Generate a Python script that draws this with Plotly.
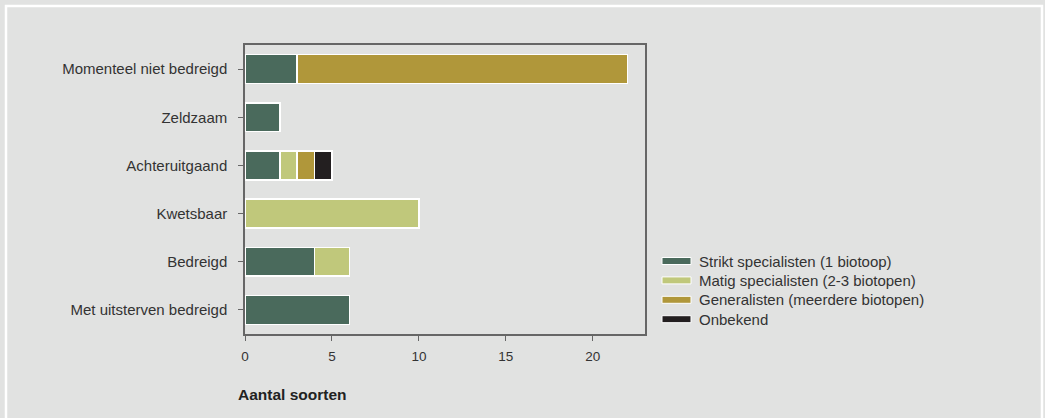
import plotly.graph_objects as go

# Rode-lijststatus per categorie, uitgesplitst naar specialisatiegraad
categories = [
    "Momenteel niet bedreigd",
    "Zeldzaam",
    "Achteruitgaand",
    "Kwetsbaar",
    "Bedreigd",
    "Met uitsterven bedreigd",
]
strikt = [3, 2, 2, 0, 4, 6]
matig = [0, 0, 1, 10, 2, 0]
generalisten = [19, 0, 1, 0, 0, 0]
onbekend = [0, 0, 1, 0, 0, 0]

series_names = [
    "Strikt specialisten (1 biotoop)",
    "Matig specialisten (2-3 biotopen)",
    "Generalisten (meerdere biotopen)",
    "Onbekend",
]
series_values = [strikt, matig, generalisten, onbekend]
colors = ["#4a6a5c", "#c0c87b", "#b0973a", "#231f20"]

x_ticks = [0, 5, 10, 15, 20]
x_title = "Aantal soorten"

BG = "#e1e2e1"
TEXT = "#333333"
AXIS = "#666666"
FONT = "Liberation Sans, Arial, sans-serif"

fig = go.Figure()
for name, vals, col in zip(series_names, series_values, colors):
    fig.add_trace(go.Bar(
        y=categories, x=vals, name=name, orientation="h",
        marker=dict(color=col, line=dict(color="white", width=1.5)),
        width=0.6, showlegend=False,
    ))

# plot area in pixels: x 245..645, y 45..334
L, R, T, B = 245, 645, 45, 334
W, H = 1045, 418
pw, ph = R - L, B - T

def px_x(x):
    return (x - L) / pw

def px_y(y):
    return (B - y) / ph

shapes = []
annotations = []

# white frame around the figure
shapes.append(dict(type="rect", xref="paper", yref="paper",
                   x0=px_x(6), x1=px_x(1042), y0=px_y(6), y1=px_y(430),
                   line=dict(color="white", width=2.5), fillcolor="rgba(0,0,0,0)",
                   layer="below"))

# legend: wide swatches with labels
for i, (name, col) in enumerate(zip(series_names, colors)):
    yc = 261 + i * 19.4
    shapes.append(dict(type="rect", xref="paper", yref="paper",
                       x0=px_x(662), x1=px_x(691), y0=px_y(yc + 3.5), y1=px_y(yc - 3.5),
                       fillcolor=col, line=dict(color="white", width=1)))
    annotations.append(dict(xref="paper", yref="paper", x=px_x(697), y=px_y(yc),
                            text=name, showarrow=False, xanchor="left", yanchor="middle",
                            font=dict(family=FONT, size=15, color=TEXT)))

annotations.append(dict(xref="paper", yref="paper", x=px_x(236), y=px_y(394),
                        text="<b>" + x_title + "</b>", showarrow=False,
                        xanchor="left", yanchor="middle",
                        font=dict(family=FONT, size=15.5, color="#222222")))

fig.update_layout(
    barmode="stack",
    width=W, height=H,
    margin=dict(l=L, r=W - R, t=T, b=H - B, autoexpand=False),
    paper_bgcolor=BG, plot_bgcolor=BG,
    font=dict(family=FONT, size=15, color=TEXT),
    shapes=shapes, annotations=annotations,
    xaxis=dict(range=[0, 23], tickvals=x_ticks, showgrid=False, zeroline=False,
               showline=True, linecolor=AXIS, linewidth=1.5, mirror=True,
               ticks="outside", ticklen=5, tickcolor=AXIS, tickwidth=1,
               ticklabelstandoff=4,
               tickfont=dict(size=13.5, color=TEXT)),
    yaxis=dict(categoryorder="array", categoryarray=categories[::-1],
               range=[-0.5, 5.5], showgrid=False, zeroline=False,
               showline=True, linecolor=AXIS, linewidth=1.5, mirror=True,
               ticks="outside", ticklen=5, tickcolor=AXIS, tickwidth=1,
               ticklabelstandoff=8,
               tickfont=dict(size=15, color=TEXT)),
)

fig.write_html("out.html")
